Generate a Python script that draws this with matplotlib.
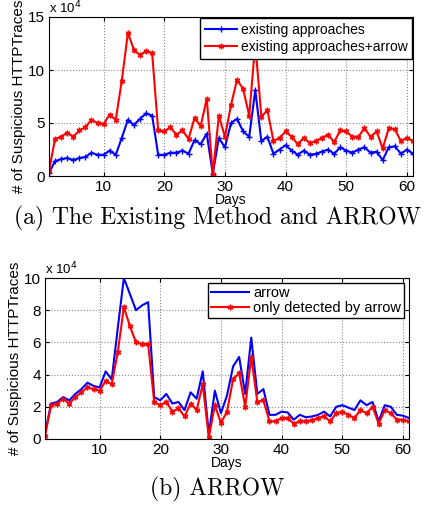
import matplotlib
matplotlib.use('Agg')
import matplotlib.pyplot as plt

plt.rcParams['font.family'] = ['Liberation Sans', 'DejaVu Sans']

days = list(range(1, 62))

# (a) values in units of 1e4
existing = [0.3, 1.4, 1.6, 1.7, 1.5, 1.7, 1.8, 2.2, 2.0, 2.0,
            2.4, 2.0, 3.6, 5.3, 4.8, 5.4, 5.9, 5.7, 2.0, 2.0,
            2.2, 2.2, 2.4, 2.1, 3.4, 3.0, 4.0, 0.2, 3.6, 2.7,
            5.0, 5.4, 4.2, 3.7, 8.1, 3.3, 3.7, 2.1, 2.5, 2.9,
            2.4, 2.0, 2.4, 2.0, 2.1, 2.3, 2.5, 2.1, 2.7, 2.4,
            2.2, 2.5, 2.7, 2.2, 2.3, 1.5, 2.7, 2.8, 2.1, 2.5, 2.1]
existing_arrow = [0.5, 3.5, 3.7, 4.1, 3.7, 4.3, 4.6, 5.3, 5.0, 4.9,
                  5.8, 5.3, 9.0, 13.5, 11.9, 11.4, 11.8, 11.6, 4.3, 4.2,
                  4.6, 3.9, 4.3, 3.5, 5.5, 4.7, 7.3, 0.2, 5.7, 3.7,
                  6.7, 9.1, 8.2, 5.7, 12.5, 5.6, 6.2, 3.3, 3.6, 4.2,
                  3.7, 3.0, 3.6, 3.1, 3.3, 3.6, 3.9, 3.2, 4.3, 4.2,
                  3.7, 3.7, 4.5, 3.7, 4.2, 2.6, 4.5, 4.4, 3.3, 3.6, 3.3]

# (b) values in units of 1e4
arrow = [0.3, 2.2, 2.3, 2.6, 2.4, 2.8, 3.1, 3.5, 3.3, 3.2,
         4.2, 3.7, 6.9, 10.0, 9.0, 8.0, 8.3, 8.5, 2.6, 2.4,
         2.8, 2.2, 2.3, 1.8, 2.9, 2.5, 4.2, 0.3, 3.0, 1.6,
         2.7, 4.5, 5.1, 2.8, 6.3, 2.8, 3.1, 1.5, 1.5, 1.7,
         1.65, 1.2, 1.5, 1.35, 1.4, 1.5, 1.7, 1.4, 2.0, 2.1,
         1.95, 1.8, 2.4, 2.1, 2.3, 1.1, 2.1, 2.0, 1.5, 1.45, 1.3]
only_arrow = [0.2, 2.1, 2.2, 2.5, 2.2, 2.6, 2.9, 3.2, 3.1, 3.0,
              3.6, 3.4, 5.4, 8.2, 7.0, 6.0, 5.9, 5.9, 2.3, 2.1,
              2.3, 1.7, 1.9, 1.4, 2.2, 1.8, 3.4, 0.1, 2.1, 1.0,
              1.7, 3.7, 4.1, 2.0, 5.1, 2.3, 2.4, 1.1, 1.1, 1.3,
              1.3, 0.95, 1.1, 1.1, 1.15, 1.3, 1.4, 1.1, 1.6, 1.7,
              1.5, 1.3, 1.8, 1.6, 2.0, 0.95, 1.8, 1.6, 1.2, 1.2, 1.1]

fig = plt.figure(figsize=(4.35, 5.08), dpi=100)
ax1 = fig.add_axes([49/435, 1-176/508, 364/435, 159/508])
ax2 = fig.add_axes([45/435, 1-439/508, 364/435, 161/508])

star = (6, 2, 0)


def style(ax, yticks):
    ax.set_xlim(1, 61)
    ax.set_xticks([10, 20, 30, 40, 50, 60])
    ax.set_yticks(yticks)
    ax.set_ylim(yticks[0], yticks[-1])
    ax.grid(True, linestyle=':', color='#888888', linewidth=0.8)
    ax.tick_params(direction='in', top=True, right=True, labelsize=11, length=3, pad=3)
    ax.set_xlabel('Days', fontsize=10, labelpad=-1)
    ax.set_ylabel('# of Suspicious HTTPTraces', fontsize=11, labelpad=1)
    ax.text(0, 1.005, 'x 10$^4$', transform=ax.transAxes, fontsize=9.5,
            ha='left', va='bottom')


ax1.plot(days, existing, color='blue', lw=1.5, marker='+', ms=4, mew=1,
         label='existing approaches')
ax1.plot(days, existing_arrow, color='red', lw=1.5, marker=star, ms=4, mew=1,
         label='existing approaches+arrow')
style(ax1, [0, 5, 10, 15])
leg = ax1.legend(loc='upper right', fontsize=10, fancybox=False, framealpha=1,
                 edgecolor='black', borderaxespad=0.05, handlelength=2.3,
                 borderpad=0.35, labelspacing=0.25, handletextpad=0.3)
leg.get_frame().set_linewidth(1)

ax2.plot(days, arrow, color='blue', lw=1.5, label='arrow')
ax2.plot(days, only_arrow, color='red', lw=1.5, marker=star, ms=4, mew=1,
         label='only detected by arrow')
style(ax2, [0, 2, 4, 6, 8, 10])
leg = ax2.legend(loc='upper right', fontsize=10.5, fancybox=False, framealpha=1,
                 edgecolor='black', borderaxespad=0.35, handlelength=2.6,
                 borderpad=0.2, labelspacing=0.1, handletextpad=0.3)
leg.get_frame().set_linewidth(1)

cap = ['cmr10', 'DejaVu Serif']
fig.text(0.5, 1-218/508, '(a) The Existing Method and ARROW', ha='center',
         va='center', fontsize=17, family=cap)
fig.text(0.5, 1-489/508, '(b) ARROW', ha='center', va='center',
         fontsize=17, family=cap)

fig.savefig('out.png', dpi=100)
